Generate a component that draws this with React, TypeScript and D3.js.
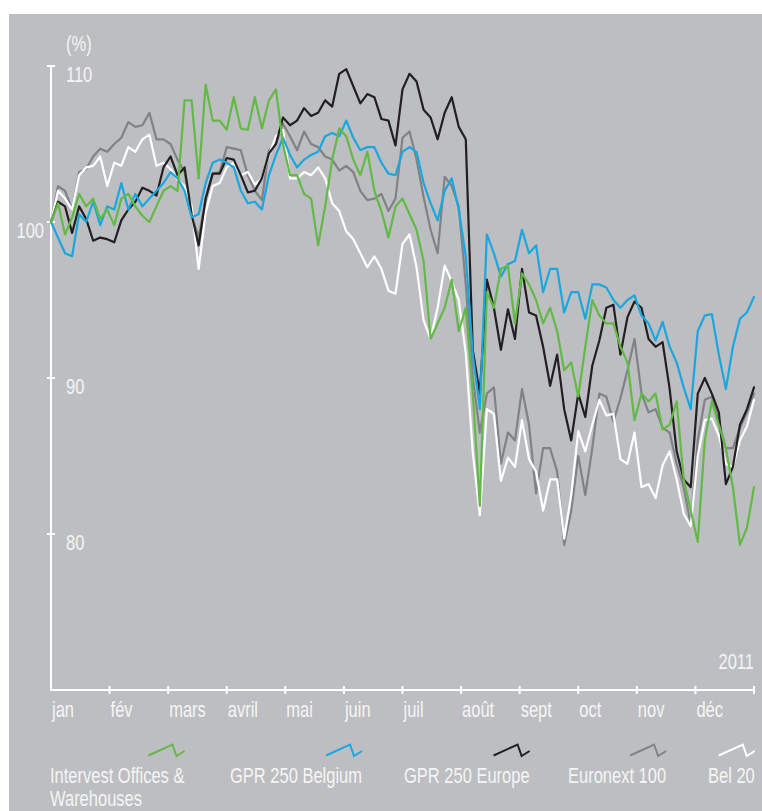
import React, { useEffect, useRef } from 'react';
import * as d3 from 'd3';

// months along the bottom axis (2011)
const months = ['jan', 'fév', 'mars', 'avril', 'mai', 'juin', 'juil', 'août', 'sept', 'oct', 'nov', 'déc'];
const yTicks = [110, 100, 90, 80];

// index values (%), base 100, sampled roughly every 2.6 trading days
const intervest = [
  100.0, 101.2, 99.2, 100.3, 101.8, 101.0, 101.5, 100.2, 100.8, 99.8,
  101.5, 101.8, 101.0, 100.4, 100.0, 101.0, 102.0, 102.3, 102.0, 107.8,
  107.8, 102.8, 108.8, 106.5, 106.5, 105.9, 108.0, 106.0, 105.9, 108.0,
  106.0, 107.8, 108.5, 105.0, 103.0, 103.0, 101.8, 101.5, 98.5, 101.0,
  104.0, 106.0, 105.5, 104.0, 103.0, 104.5, 102.0, 100.7, 99.0, 101.0,
  101.5, 100.5, 99.5, 97.5, 92.5, 93.5, 94.5, 96.3, 93.0, 94.5,
  89.0, 81.8, 95.5, 94.5, 97.0, 97.2, 93.5, 96.7, 96.0, 95.0,
  93.5, 94.5, 93.0, 90.5, 91.0, 88.8, 92.0, 95.0, 94.0, 93.5,
  93.5, 92.0, 91.0, 87.3, 89.0, 88.5, 89.0, 86.7, 87.0, 88.5,
  83.5, 81.5, 79.5, 86.0, 88.5, 87.0, 85.5, 83.0, 79.3, 80.4, 83.0,
];
const gprBelgium = [
  100.0, 99.0, 98.0, 97.8, 100.5, 100.0, 101.3, 99.8, 101.0, 100.8,
  102.5, 100.8, 101.8, 101.0, 101.5, 102.0, 102.5, 103.2, 102.8, 102.0,
  100.3, 100.5, 102.5, 103.8, 104.0, 103.8, 103.5, 102.0, 101.2, 101.3,
  100.8, 103.0, 104.3, 105.4, 104.3, 103.5, 104.0, 104.3, 104.5, 105.5,
  105.7, 105.5, 106.5, 105.4, 104.6, 104.8, 104.8, 103.8, 103.1, 103.0,
  104.5, 104.8, 104.5, 102.5, 101.2, 100.1, 102.0, 102.8, 100.8, 97.8,
  91.5, 88.0, 99.2, 98.0, 96.5, 97.3, 97.5, 99.5, 98.0, 98.5,
  95.5, 97.0, 97.0, 94.2, 95.5, 95.5, 93.8, 96.0, 96.0, 95.8,
  95.0, 94.5, 95.0, 95.3, 94.0, 93.5, 92.4, 93.6, 92.0, 91.0,
  89.4, 88.0, 93.0, 94.0, 94.1, 91.5, 89.3, 92.0, 93.8, 94.2, 95.2,
];
const gprEurope = [
  100.0, 101.3, 101.0, 99.3, 101.0, 100.2, 98.8, 99.0, 98.9, 98.7,
  100.1, 100.8, 101.3, 102.2, 102.0, 101.7, 103.5, 104.2, 103.0, 103.5,
  100.5, 98.5, 101.5, 103.1, 103.1, 104.1, 104.0, 103.0, 101.9, 102.0,
  102.8, 104.4, 105.0, 106.7, 106.2, 106.5, 107.3, 106.8, 107.0, 107.8,
  107.4, 109.5, 109.8, 108.7, 107.6, 108.2, 108.0, 106.6, 106.5, 104.9,
  108.5, 109.5, 109.0, 107.2, 106.7, 105.3, 107.0, 108.0, 106.1, 105.3,
  91.8, 89.0, 96.3, 94.5, 91.8, 94.4, 92.5, 97.0, 94.2, 94.0,
  92.0, 89.5, 91.5, 88.0, 86.0, 89.0, 87.5, 90.8, 92.4, 94.5,
  94.7, 91.5, 93.9, 94.9, 94.5, 92.5, 92.0, 92.3, 89.3, 85.3,
  83.5, 83.0, 89.0, 90.0, 89.0, 87.8, 83.2, 84.3, 87.0, 88.0, 89.4,
];
const euronext100 = [
  100.0, 102.3, 102.0, 100.8, 103.2, 103.4, 104.2, 104.7, 104.5, 105.0,
  105.4, 106.4, 106.1, 106.2, 107.0, 105.3, 105.3, 105.0, 104.0, 103.2,
  100.5, 99.0, 101.5, 103.1, 103.2, 104.8, 104.7, 104.6, 103.0, 102.0,
  101.4, 104.6, 105.0, 106.3, 105.5, 104.6, 105.8, 105.0, 104.8, 104.2,
  104.0, 103.3, 103.6, 103.2, 102.0, 101.4, 101.5, 101.8, 100.7, 101.5,
  105.4, 105.8, 104.0, 101.6, 99.5, 98.0, 102.9, 102.3, 101.0, 96.0,
  90.0, 86.5, 89.0, 89.4, 84.5, 86.5, 86.0, 89.3, 87.0, 82.6,
  85.5, 85.5, 84.0, 79.3, 81.5, 85.0, 82.5, 85.5, 89.0, 88.8,
  87.2, 88.7, 90.5, 92.5, 89.0, 87.8, 88.0, 86.8, 86.5, 84.5,
  83.0, 80.6, 86.0, 88.6, 88.8, 87.2, 85.5, 85.5, 86.8, 87.8, 89.0,
];
const bel20 = [
  100.0, 102.0, 101.5, 100.8, 103.0, 103.5, 103.6, 104.2, 102.3, 103.8,
  103.6, 104.8, 104.5, 105.3, 105.6, 103.6, 103.8, 103.4, 102.7, 102.3,
  101.0, 97.0, 100.6, 102.3, 102.5, 103.5, 103.8, 103.0, 103.2, 102.4,
  102.8, 104.3, 105.5, 105.9, 102.8, 102.8, 103.2, 103.0, 103.5, 102.8,
  101.2, 100.7, 99.4, 98.9, 98.0, 97.1, 97.8, 97.0, 95.6, 95.4,
  98.6, 99.2, 97.1, 93.7, 92.5, 94.5, 97.2, 96.2, 95.0, 91.6,
  85.2, 81.2, 88.0, 87.7, 83.4, 84.9, 84.3, 87.3, 84.8, 84.0,
  81.5, 83.5, 83.5, 79.7, 82.5, 86.6, 85.3, 87.0, 88.6, 87.6,
  87.7, 84.8, 84.5, 86.5, 83.0, 83.2, 82.3, 84.4, 85.3, 83.5,
  81.3, 80.5, 85.0, 87.3, 87.4, 86.3, 84.5, 84.3, 86.0, 86.9, 88.6,
];

const seriesNames = [['Intervest Offices &', 'Warehouses'], ['GPR 250 Belgium'], ['GPR 250 Europe'], ['Euronext 100'], ['Bel 20']];

// condensed look: Liberation Sans squeezed horizontally
const FONT = "'Liberation Sans', Arial, sans-serif";
const SX = 0.75;

const App = () => {
  const svgRef = useRef<SVGSVGElement>(null);

  useEffect(() => {
    const W = 762;
    const H = 811;
    const left = 51, right = 754, top = 66, bottom = 690;
    const textColor = '#f5f5f5';

    const svg = d3.select(svgRef.current);
    svg.selectAll('*').remove();

    // grey panel
    svg.append('rect')
      .attr('x', 9).attr('y', 14)
      .attr('width', W - 9).attr('height', H - 14)
      .attr('fill', '#bdbec1');

    const x = d3.scaleLinear().domain([0, intervest.length - 1]).range([left, right]);
    const xm = d3.scaleLinear().domain([0, 12]).range([left, right]);
    const y = d3.scaleLinear().domain([70, 110]).range([bottom, top]);

    const series = [
      { values: intervest, color: '#62b946' },
      { values: gprBelgium, color: '#1aa7df' },
      { values: gprEurope, color: '#231f20' },
      { values: euronext100, color: '#808285' },
      { values: bel20, color: '#ffffff' },
    ];

    // axes
    const axis = svg.append('g').attr('stroke', '#ffffff').attr('stroke-width', 2).attr('fill', 'none');
    axis.append('path').attr('d', `M${left},${top}V${bottom}H${right}`);
    yTicks.forEach(t => {
      axis.append('line').attr('x1', left - 4).attr('x2', left + 4).attr('y1', y(t)).attr('y2', y(t));
    });
    d3.range(1, 13).forEach(k => {
      axis.append('line').attr('x1', xm(k)).attr('x2', xm(k)).attr('y1', bottom - 4).attr('y2', bottom + 4);
    });

    const txt = svg.append('g')
      .style('font-family', FONT)
      .style('font-size', '22px')
      .attr('fill', textColor);

    const label = (px: number, py: number, s: string | number, anchor = 'start') =>
      txt.append('text')
        .attr('transform', `translate(${px},${py}) scale(${SX},1)`)
        .attr('text-anchor', anchor)
        .text(s);

    yTicks.forEach(t => {
      label(t === 100 ? left - 7 : left + 15, y(t) + 16, t, t === 100 ? 'end' : 'start');
    });
    label(66, 51, '(%)');
    label(right, 669, '2011', 'end');

    months.forEach((m, i) => {
      label(xm(i) + 1, 717, m);
    });

    // lines: grey and white underneath, green on top
    const line = d3.line<number>()
      .x((_, i) => x(i))
      .y(d => y(d));
    const drawOrder = [3, 4, 2, 1, 0];
    drawOrder.forEach(si => {
      svg.append('path')
        .datum(series[si].values)
        .attr('d', line)
        .attr('fill', 'none')
        .attr('stroke', series[si].color)
        .attr('stroke-width', 2.2)
        .attr('stroke-linejoin', 'round')
        .attr('stroke-linecap', 'round');
    });

    // legend (the second line of the first label sits on the bottom edge)
    const legendStart = [50, 230, 404, 568, 708];
    const legendBase = 783;
    seriesNames.forEach((lines, i) => {
      lines.forEach((l, j) => {
        label(legendStart[i], legendBase + j * 23, l);
      });
      const first = txt.select<SVGTextElement>(`text:last-of-type`);
      const len = lines.length === 1
        ? (first.node() as SVGTextContentElement).getComputedTextLength() * SX
        : ((txt.selectAll<SVGTextElement, unknown>('text').nodes().slice(-2)[0]) as SVGTextContentElement).getComputedTextLength() * SX;
      const r = legendStart[i] + len;
      svg.append('path')
        .attr('d', `M${r - 36},${legendBase - 27.5}L${r - 12},${legendBase - 38.5}L${r - 8},${legendBase - 27}L${r},${legendBase - 32}`)
        .attr('fill', 'none')
        .attr('stroke', series[i].color)
        .attr('stroke-width', 2);
    });
  }, []);

  return (
    <svg ref={svgRef} width={762} height={811} style={{ position: 'absolute', left: 0, top: 0, background: '#ffffff' }} />
  );
};

export default App;
